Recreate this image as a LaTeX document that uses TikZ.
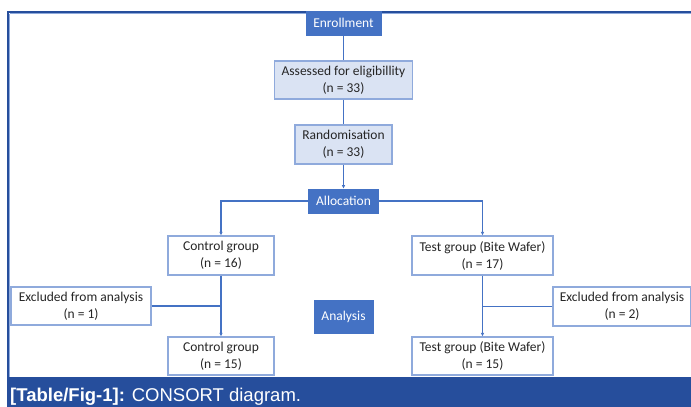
\documentclass[tikz,border=0pt]{standalone}
\usepackage{fontspec}
\setmainfont{Carlito}
\newfontfamily\capfont{Liberation Sans}
\usetikzlibrary{arrows.meta}
\definecolor{mblue}{RGB}{68,114,196}
\definecolor{lblue}{RGB}{218,227,243}
\definecolor{bblue}{RGB}{143,170,220}
\definecolor{dblue}{RGB}{38,78,156}
\tikzset{
  txt/.style={font=\fontsize{13.5}{17}\selectfont, align=center, inner sep=0pt, text=black!85},
  darkbox/.style={txt, fill=mblue, draw=mblue, text=white, line width=0.8pt},
  lightbox/.style={txt, fill=lblue, draw=bblue, line width=1.2pt},
  whitebox/.style={txt, fill=white, draw=bblue, line width=1.2pt},
  conn/.style={draw=mblue, line width=1.1pt},
  arr/.style={conn, -{Latex[length=3.5pt,width=3.5pt]}}
}
\begin{document}
\begin{tikzpicture}[x=1pt,y=-1pt]
\useasboundingbox (0,0) rectangle (691,407);
% frame
\fill[white] (0,0) rectangle (691,407);
\draw[bblue, line width=1pt] (9.8,13.8) -- (691,13.8);
\draw[bblue, line width=1pt] (9.8,13.8) -- (9.8,378);
\draw[dblue, line width=1.6pt] (8,12) -- (691,12);
\draw[dblue, line width=1.6pt] (8,11.2) -- (8,378);
\fill[dblue] (7.2,377) rectangle (691,407);
\node[anchor=base west, inner sep=0pt, text=white, font=\capfont\fontsize{18.5}{20}\selectfont] (cap) at (10,401) {\textbf{[Table/Fig-1]:} CONSORT diagram.};
% nodes
\node[darkbox, minimum width=75pt, minimum height=24pt] (enr) at (343.5,23) {Enrollment};
\node[lightbox, minimum width=138pt, minimum height=38pt] (ass) at (343.5,80) {Assessed for eligibillity\\(n = 33)};
\node[lightbox, minimum width=97pt, minimum height=39pt] (ran) at (343.5,144.5) {Randomisation\\(n = 33)};
\node[darkbox, minimum width=70pt, minimum height=24pt] (all) at (343.5,201) {Allocation};
\node[whitebox, minimum width=106pt, minimum height=39pt] (ctl) at (221,255.5) {Control group\\(n = 16)};
\node[whitebox, minimum width=141pt, minimum height=39pt] (tst) at (482.5,255.5) {Test group (Bite Wafer)\\(n = 17)};
\node[whitebox, minimum width=140pt, minimum height=38pt] (exl) at (81,306) {Excluded from analysis\\(n = 1)};
\node[whitebox, minimum width=138pt, minimum height=39pt] (exr) at (622,306.5) {Excluded from analysis\\(n = 2)};
\node[darkbox, minimum width=59pt, minimum height=33pt] (ana) at (343.5,316.5) {Analysis};
\node[whitebox, minimum width=106pt, minimum height=38pt] (ctl2) at (221,356) {Control group\\(n = 15)};
\node[whitebox, minimum width=141pt, minimum height=38pt] (tst2) at (482.5,356) {Test group (Bite Wafer)\\(n = 15)};
% connectors
\draw[conn] (enr) -- (ass);
\draw[conn] (ass) -- (ran);
\draw[arr] (ran) -- (all);
\draw[arr] (all.west) -| (ctl.north);
\draw[arr] (all.east) -| (tst.north);
\draw[arr] (ctl) -- (ctl2);
\draw[arr] (tst) -- (tst2);
\draw[conn] (exl.east) -- (exl.east -| ctl.south);
\draw[conn] (exr.west) -- (exr.west -| tst.south);
\end{tikzpicture}
\end{document}
